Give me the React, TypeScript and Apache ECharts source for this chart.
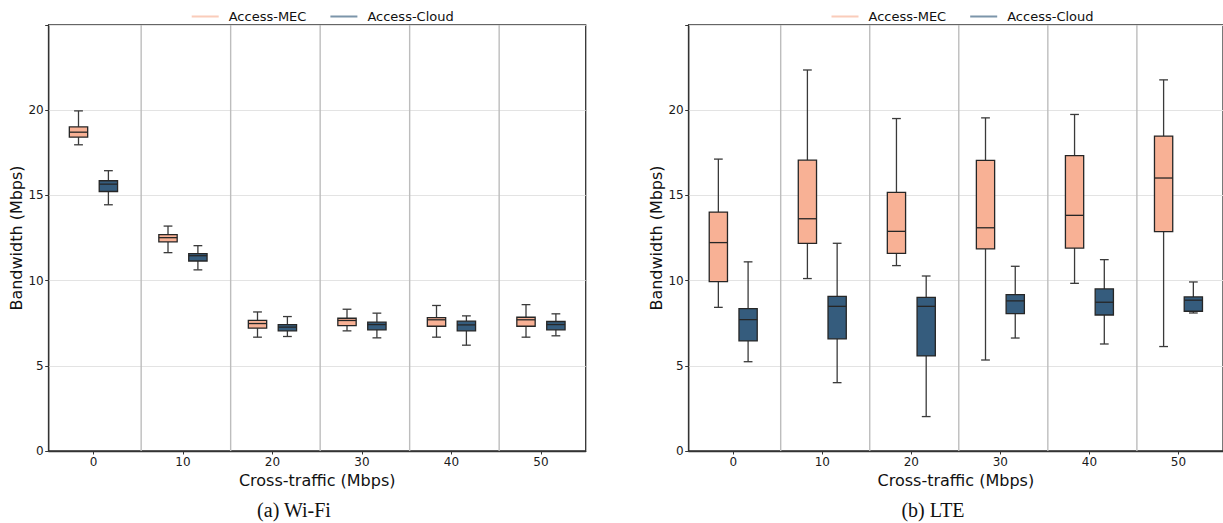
import React, { useEffect, useRef } from 'react';
import * as echarts from 'echarts';

const CATEGORIES = ['0', '10', '20', '30', '40', '50'];
const Y_TICKS = [0, 5, 10, 15, 20];
const SERIES_NAMES = ['Access-MEC', 'Access-Cloud'];
const PANEL_TITLES = ['(a) Wi-Fi', '(b) LTE'];

// each row: [lower whisker, Q1, median, Q3, upper whisker]
const WIFI_MEC = [
  [17.97, 18.42, 18.71, 19.02, 19.96],
  [11.64, 12.27, 12.52, 12.7, 13.2],
  [6.68, 7.21, 7.48, 7.66, 8.16],
  [7.05, 7.36, 7.66, 7.79, 8.32],
  [6.68, 7.32, 7.7, 7.83, 8.54],
  [6.68, 7.32, 7.7, 7.85, 8.59],
];
const WIFI_CLOUD = [
  [14.45, 15.23, 15.66, 15.86, 16.45],
  [10.63, 11.15, 11.46, 11.58, 12.05],
  [6.72, 7.05, 7.27, 7.42, 7.89],
  [6.64, 7.11, 7.42, 7.56, 8.09],
  [6.21, 7.05, 7.4, 7.62, 7.93],
  [6.76, 7.11, 7.42, 7.6, 8.05],
];
const LTE_MEC = [
  [8.43, 9.94, 12.23, 14.02, 17.13],
  [10.12, 12.19, 13.63, 17.07, 22.36],
  [10.88, 11.6, 12.89, 15.18, 19.51],
  [5.34, 11.86, 13.1, 17.05, 19.55],
  [9.84, 11.91, 13.83, 17.34, 19.75],
  [6.13, 12.87, 16.02, 18.48, 21.78],
];
const LTE_CLOUD = [
  [5.24, 6.46, 7.71, 8.36, 11.1],
  [4.01, 6.58, 8.49, 9.08, 12.19],
  [2.02, 5.58, 8.49, 9.02, 10.27],
  [6.63, 8.06, 8.81, 9.18, 10.84],
  [6.28, 7.98, 8.73, 9.51, 11.23],
  [8.1, 8.2, 8.85, 9.04, 9.92],
];

const MEC_COLOR = '#F8B195';
const CLOUD_COLOR = '#355C7D';
const FONT = 'DejaVu Sans';

function boxRenderer(offset: number, fill: string) {
  return (params: any, api: any) => {
    const i = api.value(0);
    const band = api.size([1, 0])[0];
    const cx = api.coord([i, 0])[0] + offset * band;
    const w = band * 0.205;
    const capHalf = w * 0.24;
    const y = (k: number) => api.coord([i, api.value(k)])[1];
    const yLow = y(1), yQ1 = y(2), yMed = y(3), yQ3 = y(4), yHigh = y(5);
    const wStyle = { stroke: '#3a3a3a', lineWidth: 1.3, fill: null };
    return {
      type: 'group',
      children: [
        { type: 'line', shape: { x1: cx, y1: yQ1, x2: cx, y2: yLow }, style: wStyle },
        { type: 'line', shape: { x1: cx - capHalf, y1: yLow, x2: cx + capHalf, y2: yLow }, style: wStyle },
        { type: 'line', shape: { x1: cx, y1: yQ3, x2: cx, y2: yHigh }, style: wStyle },
        { type: 'line', shape: { x1: cx - capHalf, y1: yHigh, x2: cx + capHalf, y2: yHigh }, style: wStyle },
        {
          type: 'rect',
          shape: { x: cx - w / 2, y: yQ3, width: w, height: yQ1 - yQ3 },
          style: { fill, stroke: '#262626', lineWidth: 1.3 },
        },
        { type: 'line', shape: { x1: cx - w / 2, y1: yMed, x2: cx + w / 2, y2: yMed }, style: { stroke: '#262626', lineWidth: 1.3 } },
      ],
    };
  };
}

function separatorRenderer(params: any, api: any) {
  const i = api.value(0);
  const band = api.size([1, 0])[0];
  const x = api.coord([i, 0])[0] + 0.533 * band;
  const cs = params.coordSys;
  return {
    type: 'line',
    shape: { x1: x, y1: cs.y, x2: x, y2: cs.y + cs.height },
    style: { stroke: '#bdbdbd', lineWidth: 1.4 },
  };
}

const toItems = (rows: number[][]) => rows.map((r, i) => [i, ...r]);

export default function App() {
  const ref = useRef<HTMLDivElement>(null);
  useEffect(() => {
    if (!ref.current) return;
    const chart = echarts.init(ref.current, undefined, { renderer: 'svg' });
    const panels = [
      { left: 48.7, width: 537, mec: WIFI_MEC, cloud: WIFI_CLOUD, legendLeft: 186.7, captionX: 294 },
      { left: 688.7, width: 537.6, mec: LTE_MEC, cloud: LTE_CLOUD, legendLeft: 826.5, captionX: 933 },
    ];
    const grids = panels.map((p) => ({
      left: p.left,
      top: 25,
      width: p.width,
      height: 426,
      show: true,
      borderColor: '#333',
      borderWidth: 1.3,
      backgroundColor: 'transparent',
    }));
    const xAxes = panels.map((p, gi) => ({
      type: 'category',
      gridIndex: gi,
      data: CATEGORIES,
      boundaryGap: true,
      axisLine: { show: true, lineStyle: { color: '#333', width: 1.3 } },
      axisTick: { show: true, alignWithLabel: true, length: 3.5, lineStyle: { color: '#333' } },
      axisLabel: { fontSize: 12, color: '#1a1a1a', margin: 5, fontFamily: FONT },
      splitLine: { show: false },
      name: 'Cross-traffic (Mbps)',
      nameLocation: 'middle',
      nameGap: 17,
      nameTextStyle: { fontSize: 16, color: '#111', fontFamily: FONT },
    }));
    const yAxes = panels.map((p, gi) => ({
      type: 'value',
      gridIndex: gi,
      min: 0,
      max: 25,
      interval: 5,
      axisLine: { show: true, lineStyle: { color: '#333', width: 1.3 } },
      axisTick: { show: true, length: 3.5, lineStyle: { color: '#333' } },
      axisLabel: {
        fontSize: 12,
        color: '#1a1a1a',
        margin: 5,
        fontFamily: FONT,
        formatter: (v: number) => (Y_TICKS.includes(v) ? String(v) : ''),
      },
      splitLine: { show: true, lineStyle: { color: '#e3e3e3', width: 1.2 } },
      name: 'Bandwidth (Mbps)',
      nameLocation: 'middle',
      nameGap: 24,
      nameTextStyle: { fontSize: 16, color: '#111', fontFamily: FONT },
    }));
    const series: any[] = [];
    panels.forEach((p, gi) => {
      series.push({
        type: 'custom',
        name: 'sep' + gi,
        xAxisIndex: gi,
        yAxisIndex: gi,
        silent: true,
        z: 1,
        data: CATEGORIES.slice(0, -1).map((_, i) => [i, 0]),
        encode: { x: 0, y: 1 },
        renderItem: separatorRenderer,
      });
      series.push({
        type: 'custom',
        name: SERIES_NAMES[0],
        xAxisIndex: gi,
        yAxisIndex: gi,
        z: 3,
        itemStyle: { color: MEC_COLOR },
        data: toItems(p.mec),
        encode: { x: 0, y: [1, 2, 3, 4, 5] },
        renderItem: boxRenderer(-0.167, MEC_COLOR),
      });
      series.push({
        type: 'custom',
        name: SERIES_NAMES[1],
        xAxisIndex: gi,
        yAxisIndex: gi,
        z: 3,
        itemStyle: { color: CLOUD_COLOR },
        data: toItems(p.cloud),
        encode: { x: 0, y: [1, 2, 3, 4, 5] },
        renderItem: boxRenderer(0.167, CLOUD_COLOR),
      });
    });
    const legends = panels.map((p) => ({
      left: p.legendLeft,
      top: 5,
      orient: 'horizontal',
      itemWidth: 27,
      itemHeight: 2,
      itemGap: 24,
      selectedMode: false,
      textStyle: { fontSize: 13, color: '#111', fontFamily: FONT, padding: [0, 0, 0, 5] },
      data: [
        { name: SERIES_NAMES[0], icon: 'rect', itemStyle: { color: 'rgba(248,177,149,0.65)' } },
        { name: SERIES_NAMES[1], icon: 'rect', itemStyle: { color: 'rgba(53,92,125,0.65)' } },
      ],
    }));
    chart.setOption({
      animation: false,
      backgroundColor: '#ffffff',
      grid: grids,
      xAxis: xAxes,
      yAxis: yAxes,
      legend: legends,
      series,
      graphic: panels.map((p, gi) => ({
        type: 'text',
        x: p.captionX,
        y: 510,
        style: {
          text: PANEL_TITLES[gi],
          font: '20px "Liberation Serif", "Times New Roman", serif',
          fill: '#111',
          textAlign: 'center',
          textVerticalAlign: 'middle',
        },
      })),
    });
    return () => chart.dispose();
  }, []);
  return (
    <div
      ref={ref}
      style={{ position: 'fixed', left: 0, top: 0, width: 1223, height: 523, background: '#fff' }}
    />
  );
}
